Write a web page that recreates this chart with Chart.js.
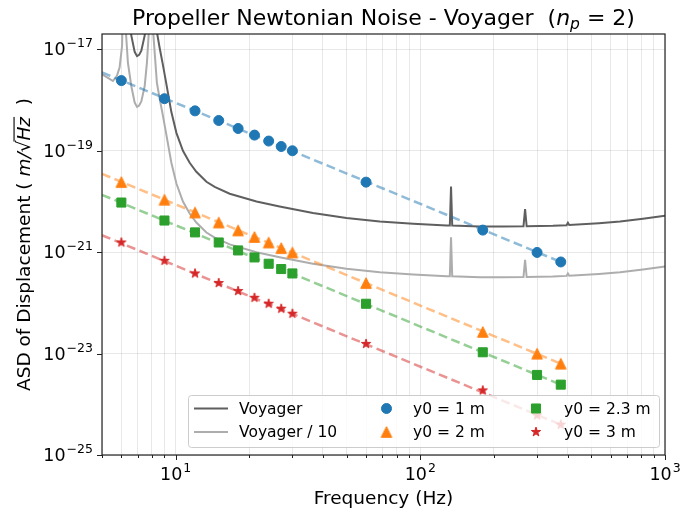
<!DOCTYPE html>
<html>
<head>
<meta charset="utf-8">
<script src="https://cdn.jsdelivr.net/npm/chart.js@4.4.0/dist/chart.umd.min.js"></script>
<style>
  html, body { margin: 0; padding: 0; background: #fff; }
  canvas { display: block; }
</style>
</head>
<body>
<canvas id="nnChart" width="681" height="513"></canvas>
<script>
// frequencies (Hz) where the propeller noise was evaluated
const pointFreqs = [6, 9, 12, 15, 18, 21, 24, 27, 30, 60, 180, 300, 375];

// ASD of displacement (m/sqrt(Hz)) for each propeller depth
const asdY0_1  = [2.41e-18, 1.06e-18, 6.1e-19, 3.94e-19, 2.74e-19, 2.03e-19, 1.55e-19, 1.21e-19, 9.96e-20, 2.40e-20, 2.72e-21, 9.86e-22, 6.4e-22];
const asdY0_2  = [2.41e-20, 1.08e-20, 6.05e-21, 3.85e-21, 2.68e-21, 1.99e-21, 1.55e-21, 1.2e-21, 9.86e-22, 2.46e-22, 2.67e-23, 9.95e-24, 6.32e-24];
const asdY0_23 = [9.5e-21, 4.2e-21, 2.45e-21, 1.55e-21, 1.08e-21, 7.86e-22, 5.9e-22, 4.64e-22, 3.8e-22, 9.6e-23, 1.06e-23, 3.79e-24, 2.44e-24];
const asdY0_3  = [1.55e-21, 6.76e-22, 3.8e-22, 2.46e-22, 1.71e-22, 1.26e-22, 9.6e-23, 7.67e-23, 6.11e-23, 1.55e-23, 1.88e-24, 6.05e-25, 3.97e-25];

// dashed fit lines: start at 5 Hz, end at the last point
const fitFreqs = [5, 375];
const fitY0_1  = [3.5e-18, 6.4e-22];
const fitY0_2  = [3.5e-20, 6.32e-24];
const fitY0_23 = [1.35e-20, 2.44e-24];
const fitY0_3  = [2.15e-21, 3.97e-25];

// Voyager sensitivity curve
const voyagerFreqs = [5.0, 5.27, 5.54, 5.74, 5.90, 6.04, 6.13, 6.22, 6.38, 6.59, 6.80, 6.95, 7.09, 7.24, 7.47, 7.63, 7.78, 7.96, 8.08, 8.38, 8.60, 8.85, 9.10, 9.30, 9.60, 10.07, 10.71, 11.41, 12.15, 13.36, 14.44, 16.63, 21.4, 26.6, 36.4, 49.9, 68.3, 93.5, 128, 132, 133.5, 135, 175, 218, 264, 268, 272, 348, 396, 401, 406, 537, 655, 813, 1000];
const voyagerASD = [3.2e-17, 2.76e-17, 2.37e-17, 2.89e-17, 4.35e-17, 1.17e-16, 1e-14, 3.6e-16, 5.46e-17, 1.86e-17, 8.9e-18, 7.3e-18, 7.76e-18, 9.4e-18, 1.86e-17, 5.4e-17, 2.45e-16, 1e-14, 2.45e-16, 2.2e-17, 1.07e-17, 5.2e-18, 2.49e-18, 1.38e-18, 5.84e-19, 2.25e-19, 9.96e-20, 5.78e-20, 3.84e-20, 2.44e-20, 1.94e-20, 1.42e-20, 9.98e-21, 7.96e-21, 5.89e-21, 4.70e-21, 4.03e-21, 3.63e-21, 3.36e-21, 3.35e-21, 1.97e-20, 3.34e-21, 3.21e-21, 3.21e-21, 3.22e-21, 7.06e-21, 3.23e-21, 3.3e-21, 3.4e-21, 3.8e-21, 3.42e-21, 3.72e-21, 4.03e-21, 4.55e-21, 5.21e-21];

const xMajorTicks = [10, 100, 1000];
const xMinorTicks = [5, 6, 7, 8, 9, 20, 30, 40, 50, 60, 70, 80, 90, 200, 300, 400, 500, 600, 700, 800, 900];
const yMajorTicks = [1e-25, 1e-23, 1e-21, 1e-19, 1e-17];

const FONT = '"DejaVu Sans", sans-serif';

function xy(xs, ys) {
    return xs.map((x, i) => ({ x: x, y: ys[i] }));
}

function makeMarker(kind, color, r) {
    const s = 2 * Math.ceil(r + 2);
    const c = document.createElement('canvas');
    c.width = s;
    c.height = s;
    const g = c.getContext('2d');
    const m = s / 2;
    g.fillStyle = color;
    g.strokeStyle = color;
    g.lineWidth = 1;
    g.beginPath();
    if (kind === 'triangle') {
        g.moveTo(m, m - r);
        g.lineTo(m + r, m + r);
        g.lineTo(m - r, m + r);
    } else {
        for (let i = 0; i < 10; i++) {
            const rad = i % 2 ? r * 0.381966 : r;
            const a = -Math.PI / 2 + i * Math.PI / 5;
            const px = m + rad * Math.cos(a), py = m + rad * Math.sin(a);
            if (i) g.lineTo(px, py); else g.moveTo(px, py);
        }
    }
    g.closePath();
    g.fill();
    g.stroke();
    return c;
}

const BLUE = '#1f77b4', ORANGE = '#ff7f0e', GREEN = '#2ca02c', RED = '#d62728';

function pointSet(label, values, color, style, radius) {
    return {
        label: label,
        data: xy(pointFreqs, values),
        backgroundColor: color,
        borderColor: color,
        borderWidth: 1,
        pointStyle: style,
        pointRadius: radius,
        showLine: false,
        order: 1
    };
}

function fitSet(values, rgba) {
    return {
        data: xy(fitFreqs, values),
        borderColor: rgba,
        borderWidth: 2.5,
        borderDash: [9, 4.5],
        pointRadius: 0,
        showLine: true,
        order: 5
    };
}

const datasets = [
    { label: 'Voyager', data: xy(voyagerFreqs, voyagerASD), borderColor: '#5f5f5f', borderWidth: 2,
      pointRadius: 0, showLine: true, order: 10 },
    { label: 'Voyager / 10', data: xy(voyagerFreqs, voyagerASD.map(v => v / 10)), borderColor: '#adadad', borderWidth: 2,
      pointRadius: 0, showLine: true, order: 9 },
    fitSet(fitY0_1, 'rgba(31,119,180,0.5)'),
    fitSet(fitY0_2, 'rgba(255,127,14,0.5)'),
    fitSet(fitY0_23, 'rgba(44,160,44,0.5)'),
    fitSet(fitY0_3, 'rgba(214,39,40,0.5)'),
    pointSet('y0 = 1 m', asdY0_1, BLUE, 'circle', 5),
    pointSet('y0 = 2 m', asdY0_2, ORANGE, makeMarker('triangle', ORANGE, 5.3), 6),
    pointSet('y0 = 2.3 m', asdY0_23, GREEN, 'rect', 6.4),
    pointSet('y0 = 3 m', asdY0_3, RED, makeMarker('star', RED, 4.9), 6)
];

function drawRich(ctx, parts, x, y, rotate) {
    ctx.save();
    ctx.translate(x, y);
    if (rotate) ctx.rotate(-Math.PI / 2);
    ctx.textAlign = 'left';
    ctx.textBaseline = 'alphabetic';
    ctx.fillStyle = '#000';
    let total = 0;
    parts.forEach(p => { ctx.font = p.font; p.w = ctx.measureText(p.t).width; total += p.w; });
    let cx = -total / 2;
    parts.forEach(p => {
        ctx.font = p.font;
        ctx.fillText(p.t, cx, p.dy || 0);
        if (p.over) {
            ctx.fillRect(cx - 1, -p.over, p.w + 1, 1.1);
        }
        cx += p.w;
    });
    ctx.restore();
}

function drawPow(ctx, exp, x, y, align) {
    const sup = exp < 0 ? '\u2212' + (-exp) : String(exp);
    ctx.font = '17.5px ' + FONT;
    const wb = ctx.measureText('10').width;
    ctx.font = '12.5px ' + FONT;
    const ws = ctx.measureText(sup).width;
    const left = align === 'right' ? x - wb - ws - 1 : x - (wb + ws + 1) / 2;
    ctx.font = '17.5px ' + FONT;
    ctx.fillText('10', left, y);
    ctx.font = '12.5px ' + FONT;
    ctx.fillText(sup, left + wb + 1, y - 8);
}

const decorPlugin = {
    id: 'decor',
    afterDraw(chart) {
        const ctx = chart.ctx;
        const a = chart.chartArea;
        const xs = chart.scales.x, ys = chart.scales.y;
        ctx.save();

        // frame
        ctx.strokeStyle = '#222';
        ctx.lineWidth = 1.2;
        ctx.strokeRect(a.left, a.top, a.right - a.left, a.bottom - a.top);

        // ticks
        ctx.lineWidth = 1;
        ctx.strokeStyle = '#222';
        ctx.beginPath();
        xMajorTicks.forEach(v => {
            const px = Math.round(xs.getPixelForValue(v)) + 0.5;
            ctx.moveTo(px, a.bottom); ctx.lineTo(px, a.bottom + 5);
        });
        xMinorTicks.forEach(v => {
            const px = Math.round(xs.getPixelForValue(v)) + 0.5;
            ctx.moveTo(px, a.bottom); ctx.lineTo(px, a.bottom + 3);
        });
        yMajorTicks.forEach(v => {
            const py = Math.round(ys.getPixelForValue(v)) + 0.5;
            ctx.moveTo(a.left, py); ctx.lineTo(a.left - 5, py);
        });
        ctx.stroke();

        // tick labels
        ctx.fillStyle = '#000';
        ctx.textBaseline = 'alphabetic';
        ctx.textAlign = 'left';
        xMajorTicks.forEach(v => drawPow(ctx, Math.round(Math.log10(v)), xs.getPixelForValue(v), a.bottom + 25, 'center'));
        yMajorTicks.forEach(v => drawPow(ctx, Math.round(Math.log10(v)), a.left - 9, ys.getPixelForValue(v) + 6, 'right'));

        // legend
        const lw = 471, lh = 52;
        const lx = a.right - 6 - lw, ly = a.bottom - 8 - lh;
        ctx.beginPath();
        ctx.roundRect(lx + 0.5, ly + 0.5, lw, lh, 3);
        ctx.fillStyle = 'rgba(255,255,255,0.8)';
        ctx.fill();
        ctx.strokeStyle = '#cccccc';
        ctx.lineWidth = 1;
        ctx.stroke();

        const cols = [{ h: 6, t: 51 }, { h: 198.5, t: 225 }, { h: 348, t: 376 }];
        const rows = [13.5, 37];
        const entries = chart.data.datasets.filter(d => d.label);
        entries.forEach((d, i) => {
            const col = cols[Math.floor(i / 2)];
            const cy = ly + rows[i % 2];
            if (d.showLine) {
                ctx.strokeStyle = d.borderColor;
                ctx.lineWidth = d.borderWidth;
                ctx.beginPath();
                ctx.moveTo(lx + col.h, cy);
                ctx.lineTo(lx + col.h + 34, cy);
                ctx.stroke();
            } else if (d.pointStyle instanceof HTMLCanvasElement) {
                const c = d.pointStyle;
                ctx.drawImage(c, lx + col.h - c.width / 2, cy - c.height / 2);
            } else {
                ctx.fillStyle = d.backgroundColor;
                ctx.strokeStyle = d.borderColor;
                ctx.lineWidth = d.borderWidth;
                Chart.helpers.drawPoint(ctx, { pointStyle: d.pointStyle, radius: d.pointRadius, rotation: 0, borderWidth: d.borderWidth }, lx + col.h, cy);
            }
            ctx.fillStyle = '#000';
            ctx.font = '15.5px ' + FONT;
            ctx.textBaseline = 'middle';
            ctx.fillText(d.label, lx + col.t, cy + 1);
        });
        ctx.textBaseline = 'alphabetic';

        // title and axis labels
        const cxm = (a.left + a.right) / 2;
        drawRich(ctx, [
            { t: 'Propeller Newtonian Noise - Voyager  (', font: '22px ' + FONT },
            { t: 'n', font: 'italic 22px ' + FONT },
            { t: 'p', font: 'italic 15.5px ' + FONT, dy: 4.5 },
            { t: ' = 2)', font: '22px ' + FONT }
        ], cxm, 24.5, false);
        drawRich(ctx, [{ t: 'Frequency (Hz)', font: '18.5px ' + FONT }], cxm, 504, false);
        drawRich(ctx, [
            { t: 'ASD of Displacement ( ', font: '18.5px ' + FONT },
            { t: 'm/', font: 'italic 18.5px ' + FONT },
            { t: '\u221A', font: '18.5px ' + FONT },
            { t: 'Hz', font: 'italic 18.5px ' + FONT, over: 16 },
            { t: '  )', font: '18.5px ' + FONT }
        ], 29.5, (a.top + a.bottom) / 2, true);

        ctx.restore();
    }
};

new Chart(document.getElementById('nnChart').getContext('2d'), {
    type: 'scatter',
    data: { datasets: datasets },
    options: {
        responsive: false,
        animation: false,
        layout: { padding: { top: 34, right: 16, left: 0, bottom: 0 } },
        plugins: { legend: { display: false }, tooltip: { enabled: false } },
        scales: {
            x: {
                type: 'logarithmic', min: 5, max: 1000, bounds: 'data',
                afterBuildTicks: s => { s.ticks = xMinorTicks.concat(xMajorTicks).sort((p, q) => p - q).map(v => ({ value: v })); },
                afterFit: s => { s.height = 58; },
                ticks: { display: false },
                grid: { color: 'rgba(0,0,0,0.09)', lineWidth: 1, drawTicks: false },
                border: { display: false }
            },
            y: {
                type: 'logarithmic', min: 1e-25, max: 2e-17, bounds: 'data',
                afterBuildTicks: s => { s.ticks = yMajorTicks.map(v => ({ value: v })); },
                afterFit: s => { s.width = 102; },
                ticks: { display: false },
                grid: { color: 'rgba(0,0,0,0.09)', lineWidth: 1, drawTicks: false },
                border: { display: false }
            }
        }
    },
    plugins: [decorPlugin]
});
</script>
</body>
</html>
